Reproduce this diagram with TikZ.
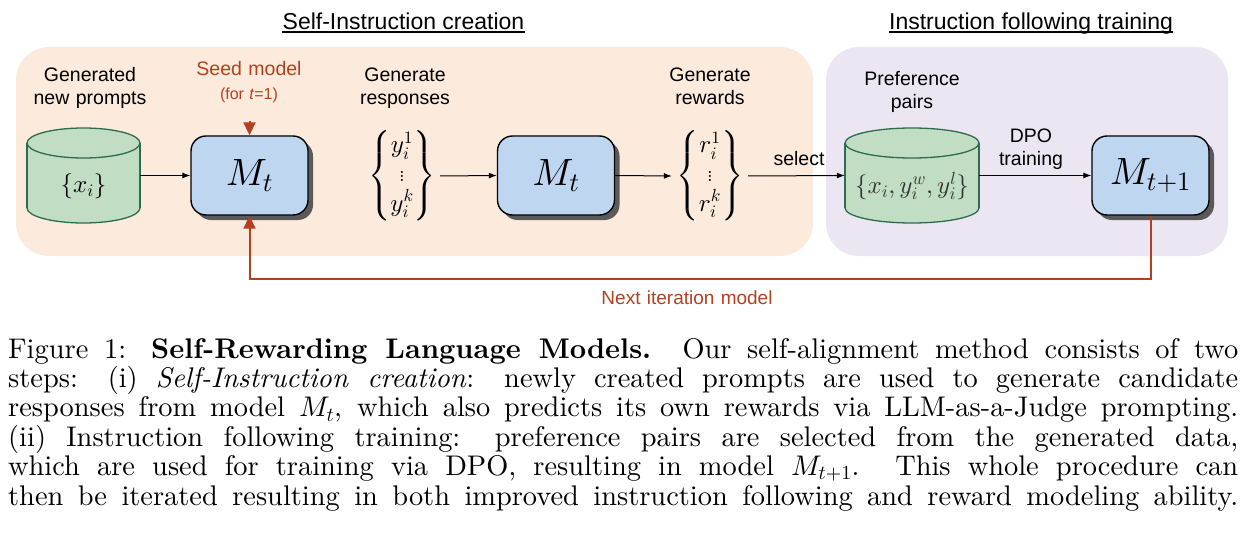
\documentclass[tikz,border=0pt]{standalone}
\usepackage{amsmath}
\usepackage{fontspec}
\DeclareFontFamily{OML}{cmm}{\skewchar\font'177}
\DeclareFontShape{OML}{cmm}{m}{it}{<->cmmi10}{}
\DeclareFontFamily{OMS}{cmsy}{\skewchar\font'60}
\DeclareFontShape{OMS}{cmsy}{m}{n}{<->cmsy10}{}
\DeclareFontFamily{OMX}{cmex}{}
\DeclareFontShape{OMX}{cmex}{m}{n}{<->cmex10}{}
\DeclareFontFamily{OT1}{cmr}{\hyphenchar\font45 }
\DeclareFontShape{OT1}{cmr}{m}{n}{<->cmr10}{}
\newfontfamily\lsans{Liberation Sans}
\newfontfamily\capfont{lmroman10}[Extension=.otf, UprightFont=*-regular, BoldFont=*-bold, ItalicFont=*-italic, BoldItalicFont=*-bolditalic]
\usetikzlibrary{arrows.meta,shadows,calc}
\definecolor{peach}{HTML}{FCEBDC}
\definecolor{lav}{HTML}{ECE6F3}
\definecolor{cylfill}{HTML}{C1DDC3}
\definecolor{cylline}{HTML}{2F6B4F}
\definecolor{boxfill}{HTML}{BFD6F1}
\definecolor{redc}{HTML}{B5401F}
\definecolor{shad}{HTML}{5A5A5A}
\tikzset{
  mbox/.style={draw=black, line width=1.4pt, fill=boxfill, rounded corners=15pt,
    minimum width=117pt, minimum height=79pt, inner sep=0pt,
    drop shadow={shadow xshift=5pt, shadow yshift=-5pt, fill=shad, opacity=1},
    font=\fontsize{38}{44}\selectfont},
  lbl/.style={font=\lsans\fontsize{19.5}{22.5}\selectfont, text width=160pt, align=center, inner sep=0pt, anchor=base},
  ttl/.style={font=\lsans\fontsize{23}{27}\selectfont, inner sep=0pt, anchor=base},
  arr/.style={line width=1pt, -{Latex[length=8pt,width=6pt]}},
  redarr/.style={draw=redc, line width=2pt, -{Triangle[length=13pt,width=12pt]}},
  mathset/.style={font=\fontsize{25}{28.5}\selectfont, inner sep=0pt},
}
\newcommand\cylpath[5]{% cx, rx, ytop, ybot, ry
  \fill[cylfill] (#1-#2,#3+#5) rectangle (#1+#2,#4-#5);
  \fill[cylfill] (#1,#4-#5) ellipse[x radius=#2, y radius=#5];
  \begin{scope}
    \clip (#1-#2-5,#4-#5) rectangle (#1+#2+5,#4+5);
    \draw[cylline, line width=1.3pt] (#1,#4-#5) ellipse[x radius=#2, y radius=#5];
  \end{scope}
  \draw[cylline, line width=1.3pt] (#1-#2,#3+#5) -- (#1-#2,#4-#5) (#1+#2,#3+#5) -- (#1+#2,#4-#5);
  \draw[cylline, line width=1.3pt, fill=cylfill] (#1,#3+#5) ellipse[x radius=#2, y radius=#5];
}
\begin{document}
\begin{tikzpicture}[x=1pt, y=-1pt]
\useasboundingbox (0,0) rectangle (1246,540);
% panels
\fill[peach, rounded corners=33pt] (16,47) rectangle (813,256);
\fill[lav, rounded corners=33pt] (826,47) rectangle (1228,256);
% titles
\node[ttl] (t1) at (403.5,29.3) {Self-Instruction creation};
\node[ttl] (t2) at (1031,29.3) {Instruction following training};
\draw[line width=1.6pt] ([yshift=-2.6pt]t1.base west) -- ([yshift=-2.6pt]t1.base east);
\draw[line width=1.6pt] ([yshift=-2.6pt]t2.base west) -- ([yshift=-2.6pt]t2.base east);
% cylinders
\cylpath{83.5}{56.5}{128}{223}{15}
\cylpath{912}{67}{128}{223}{15}
\node[inner sep=0pt, minimum width=113pt, minimum height=95pt] (c1) at (83.5,175.5) {};
\node[inner sep=0pt, minimum width=134pt, minimum height=95pt] (c2) at (912,175.5) {};
\node[mathset] (c1t) at (83.5,186) {$\{x_i\}$};
\node[mathset, text=black!80] (c2t) at (912,186) {$\{x_i,y_i^w,y_i^l\}$};
% boxes
\node[mbox] (m1) at (249.5,175.5) {$M_t$};
\node[mbox] (m2) at (556,175.5) {$M_t$};
\node[mbox] (m3) at (1150.5,175.5) {$M_{t+1}$};
% sets
\node[mathset, minimum width=76pt] (ys) at (402,176) {$\left\{\begin{matrix} y_i^1\\ \scriptscriptstyle\vdots\\ y_i^k\end{matrix}\right\}$};
\node[mathset, minimum width=76pt] (rs) at (710,176) {$\left\{\begin{matrix} r_i^1\\ \scriptscriptstyle\vdots\\ r_i^k\end{matrix}\right\}$};
% labels
\node[lbl] (l1) at (90,81.7) {Generated\\new prompts};
\node[lbl] (l2) at (405,81.7) {Generate\\responses};
\node[lbl] (l3) at (710,81.7) {Generate\\rewards};
\node[lbl] (l4) at (912,86) {Preference\\pairs};
\node[lbl] (l5) at (1031,142.7) {DPO\\training};
\node[lbl] (l6) at (799,165.5) {select};
\node[lbl, text=redc] (seed) at (249,76) {Seed model};
\node[lbl, text=redc, font=\lsans\fontsize{16}{19}\selectfont] (seed2) at (249,100) {(for \textit{t}=1)};
\node[lbl, text=redc, font=\lsans\fontsize{19}{22}\selectfont, text width=250pt] (next) at (687,304) {Next iteration model};
% black arrows
\draw[arr] (c1.east) -- (m1.west);
\draw[arr] (ys.east) -- (m2.west);
\draw[arr] (m2.east) -- (rs.west);
\draw[arr] (rs.east) -- (c2.west);
\draw[arr] (c2.east) -- (m3.west);
% red arrows
\coordinate (seedtip) at (249.5,121);
\draw[redarr] (seedtip) -- (m1.north);
\coordinate (loopy) at (0,279);
\draw[redarr] (m3.south) |- (loopy -| m1.south) -- (m1.south);
% caption
\node[anchor=base west, inner sep=0pt, text width=1230pt, align=justify,
  font=\capfont\fontsize{28.4}{29.4}\selectfont] (cap) at (8,358)
{\parfillskip=0pt \tolerance=10000 Figure 1: \textbf{Self-Rewarding Language Models.} Our self-alignment method consists of two\linebreak
steps: (i) \textit{Self-Instruction creation}: newly created prompts are used to generate candidate\linebreak
responses from model $M_t$, which also predicts its own rewards via LLM-as-a-Judge prompting.\linebreak
(ii) Instruction following training: preference pairs are selected from the generated data,\linebreak
which are used for training via DPO, resulting in model $M_{t+1}$. This whole procedure can\linebreak
then be iterated resulting in both improved instruction following and reward modeling ability.\par};
\end{tikzpicture}
\end{document}
